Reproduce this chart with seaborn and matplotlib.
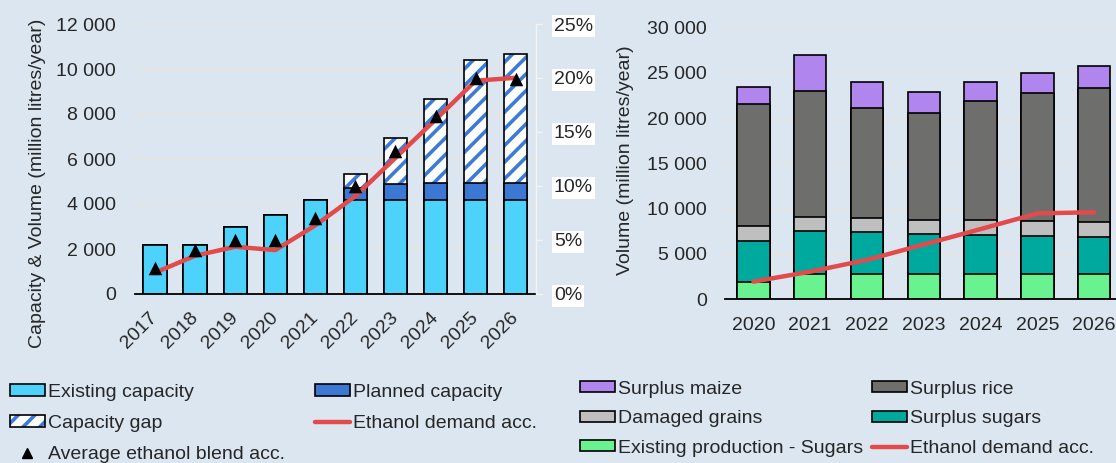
import numpy as np
import matplotlib
matplotlib.use("Agg")
import matplotlib.pyplot as plt
import matplotlib.patches as mpatches
from matplotlib.lines import Line2D
from matplotlib.ticker import FixedLocator, FuncFormatter, MultipleLocator
import seaborn as sns

# ---- data ----
years = ["2017", "2018", "2019", "2020", "2021", "2022", "2023", "2024", "2025", "2026"]
existing_cap = [2200, 2200, 3000, 3500, 4200, 4200, 4200, 4200, 4200, 4200]
planned_cap = [0, 0, 0, 0, 0, 520, 690, 750, 750, 750]
capacity_gap = [0, 0, 0, 0, 0, 620, 2050, 3700, 5470, 5710]
demand = [950, 1700, 2100, 1950, 3050, 4350, 6050, 7750, 9480, 9610]
blend_pct = [2.4, 4.1, 5.0, 5.0, 7.0, 10.0, 13.2, 16.5, 20.0, 19.9]

feed_years = ["2020", "2021", "2022", "2023", "2024", "2025", "2026"]
sugars_existing = [1950, 2800, 2800, 2800, 2800, 2800, 2800]
surplus_sugars = [4520, 4700, 4600, 4380, 4300, 4190, 4110]
damaged_grains = [1650, 1620, 1580, 1580, 1620, 1620, 1660]
surplus_rice = [13470, 13870, 12170, 11770, 13170, 14130, 14790]
surplus_maize = [1810, 3940, 2870, 2390, 2130, 2210, 2400]
feed_demand = demand[3:]

# ---- style ----
sns.set_style("white")
plt.rcParams["font.family"] = ["Liberation Sans", "DejaVu Sans"]
plt.rcParams["font.size"] = 14
plt.rcParams["hatch.linewidth"] = 2.6

FS = 14
BG = "#DCE6F1"
GRID = "#E9E5DE"
C_EXIST = "#4DD3FB"
C_PLAN = "#3B78D3"
C_HATCH = "#3C7BD6"
RED = "#E24A4C"
C_MAIZE = "#B085EE"
C_RICE = "#6E6F6D"
C_DAMAGED = "#BFBFBF"
C_SSUG = "#00A99D"
C_ESUG = "#69F28F"

fig = plt.figure(figsize=(11.16, 4.63), dpi=100, facecolor=BG)
W, H = 1116, 463

thousands = FuncFormatter(lambda v, p: f"{int(v):,}".replace(",", " "))

# ================= left chart =================
ax1 = fig.add_axes([135 / W, (H - 294) / H, 400.7 / W, 270 / H])
ax1.set_facecolor(BG)

total = [e + p + g for e, p, g in zip(existing_cap, planned_cap, capacity_gap)]
exist_plan = [e + p for e, p in zip(existing_cap, planned_cap)]
bk = dict(width=0.58, saturation=1, errorbar=None, ax=ax1)
sns.barplot(x=years, y=total, color="white", edgecolor=C_HATCH, linewidth=0, hatch="//", **bk)
sns.barplot(x=years, y=total, color="black", fill=False, linewidth=1.2, **bk)
sns.barplot(x=years, y=exist_plan, color=C_PLAN, edgecolor="black", linewidth=1.2, **bk)
sns.barplot(x=years, y=existing_cap, color=C_EXIST, edgecolor="black", linewidth=1.2, **bk)
sns.lineplot(x=years, y=demand, color=RED, linewidth=3.2, sort=False, ax=ax1)

ax1.set_ylim(0, 12000)
ax1.yaxis.set_major_locator(MultipleLocator(2000))
ax1.yaxis.set_major_formatter(thousands)
ax1.set_axisbelow(True)
ax1.yaxis.grid(True, color=GRID, linewidth=1)
ax1.xaxis.set_minor_locator(FixedLocator(np.arange(len(years) + 1) - 0.5))
ax1.tick_params(axis="x", which="major", length=0, pad=15, labelsize=FS)
ax1.tick_params(axis="x", which="minor", length=6, width=1.2, color="black", direction="out")
ax1.tick_params(axis="y", length=0, pad=13.5, labelsize=FS)
for lab in ax1.get_xticklabels():
    lab.set_rotation(45)
    lab.set_ha("right")
    lab.set_va("center")
    lab.set_rotation_mode("anchor")
for s in ["top", "left", "right"]:
    ax1.spines[s].set_visible(False)
ax1.spines["bottom"].set_color("black")
ax1.spines["bottom"].set_linewidth(1.3)
ax1.set_xlabel("")
ax1.set_ylabel("Capacity & Volume (million litres/year)", fontsize=FS)
ax1.yaxis.set_label_coords(-0.221, 0.411)

ax2 = ax1.twinx()
sns.scatterplot(x=years, y=blend_pct, marker="^", color="black", s=95, linewidth=0, ax=ax2, zorder=5)
ax2.set_ylim(0, 25)
ax2.yaxis.set_major_locator(MultipleLocator(5))
ax2.yaxis.set_major_formatter(FuncFormatter(lambda v, p: f"{v:.0f}%"))
ax2.tick_params(axis="y", length=4.5, width=1, color="#F4F4F4", pad=8.5, labelsize=FS)
for s in ["top", "left", "bottom"]:
    ax2.spines[s].set_visible(False)
ax2.spines["right"].set_color("#F4F4F4")
ax2.spines["right"].set_linewidth(1)
ax2.set_ylabel("")
for lab in ax2.get_yticklabels():
    lab.set_bbox(dict(facecolor="white", edgecolor="none", pad=1.5))
ax1.set_xlim(-0.5, len(years) - 0.5)

# ================= right chart =================
ax3 = fig.add_axes([725 / W, (H - 299.3) / H, 397.6 / W, 271.8 / H])
ax3.set_facecolor(BG)

layers = [sugars_existing, surplus_sugars, damaged_grains, surplus_rice, surplus_maize]
colors = [C_ESUG, C_SSUG, C_DAMAGED, C_RICE, C_MAIZE]
cum = np.cumsum(np.array(layers), axis=0)
bk3 = dict(width=0.57, saturation=1, errorbar=None, ax=ax3)
for i in range(len(layers) - 1, -1, -1):
    sns.barplot(x=feed_years, y=cum[i], color=colors[i], edgecolor="black", linewidth=1.2, **bk3)
sns.lineplot(x=feed_years, y=feed_demand, color=RED, linewidth=3.2, sort=False, ax=ax3)

ax3.set_xlim(-0.5, len(feed_years) - 0.5)
ax3.set_ylim(0, 30000)
ax3.yaxis.set_major_locator(MultipleLocator(5000))
ax3.yaxis.set_major_formatter(thousands)
ax3.set_axisbelow(True)
ax3.yaxis.grid(True, color=GRID, linewidth=1)
ax3.xaxis.set_minor_locator(FixedLocator(np.arange(len(feed_years) + 1) - 0.5))
ax3.tick_params(axis="x", which="major", length=0, pad=13, labelsize=FS)
ax3.tick_params(axis="x", which="minor", length=6, width=1.2, color="black", direction="out")
ax3.tick_params(axis="y", length=0, pad=13, labelsize=FS)
for s in ["top", "left", "right"]:
    ax3.spines[s].set_visible(False)
ax3.spines["bottom"].set_color("black")
ax3.spines["bottom"].set_linewidth(1.3)
ax3.set_xlabel("")
ax3.set_ylabel("Volume (million litres/year)", fontsize=FS)
ax3.yaxis.set_label_coords(-0.230, 0.5125)

# ================= legends =================
def box(c):
    return mpatches.Patch(facecolor=c, edgecolor="black", linewidth=1.2)

gap_handle = (mpatches.Patch(facecolor="white", edgecolor=C_HATCH, linewidth=0, hatch="//"),
              mpatches.Patch(facecolor="none", edgecolor="black", linewidth=1.2))
h_left = [box(C_EXIST), gap_handle,
          Line2D([], [], marker="^", color="black", linestyle="none", markersize=7),
          box(C_PLAN), Line2D([], [], color=RED, linewidth=3.2)]
l_left = ["Existing capacity", "Capacity gap", "Average ethanol blend acc.",
          "Planned capacity", "Ethanol demand acc."]
fig.legend(h_left, l_left, loc="upper left", bbox_to_anchor=(10 / W, 1 - 384 / H),
           ncol=2, frameon=False, fontsize=FS, borderpad=0, borderaxespad=0,
           handlelength=1.78, handleheight=0.51, handletextpad=0.18,
           columnspacing=1.55, labelspacing=0.72)

h_right = [box(C_MAIZE), box(C_DAMAGED), box(C_ESUG),
           box(C_RICE), box(C_SSUG), Line2D([], [], color=RED, linewidth=3.2)]
l_right = ["Surplus maize", "Damaged grains", "Existing production - Sugars",
           "Surplus rice", "Surplus sugars", "Ethanol demand acc."]
fig.legend(h_right, l_right, loc="upper left", bbox_to_anchor=(580 / W, 1 - 380.5 / H),
           ncol=2, frameon=False, fontsize=FS, borderpad=0, borderaxespad=0,
           handlelength=1.78, handleheight=0.51, handletextpad=0.18,
           columnspacing=0.45, labelspacing=0.65)

fig.savefig("out.png", dpi=100, facecolor=BG)
